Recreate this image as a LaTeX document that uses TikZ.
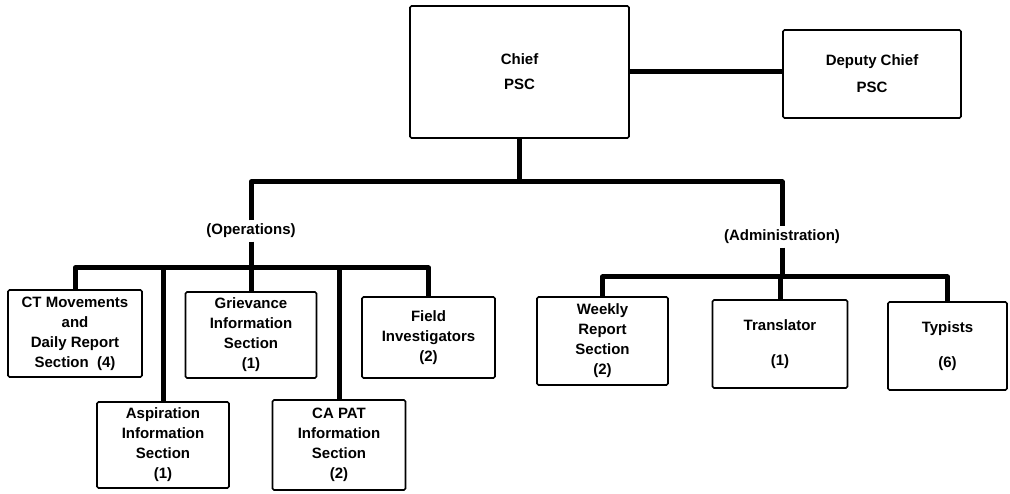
\documentclass[tikz,border=0pt]{standalone}
\usepackage{fontspec}
\setmainfont{Liberation Sans}
\usetikzlibrary{positioning}

\begin{document}
\begin{tikzpicture}[x=1pt, y=-1pt,
  every node/.style={font=\fontsize{15}{20}\selectfont\bfseries, align=center},
  unit/.style={draw, line width=1.6pt, rounded corners=1.5pt, inner sep=2pt},
  conn/.style={line width=5pt, line join=round}]
  \useasboundingbox (0,0) rectangle (1010,494);

  % Head
  \node[unit, minimum width=219pt, minimum height=132pt] (chief) at (519.5,72) {Chief\\[5pt]PSC};
  \node[unit, minimum width=178pt, minimum height=88pt] (deputy) at (872,74) {Deputy Chief\\[7pt]PSC};
  \draw[conn] (chief.east) -- (chief.east -| deputy.west);

  % Operations
  \node (ops) at (251,231) {(Operations)};
  \node[unit, minimum width=134pt, minimum height=87pt] (ct) at (75,333.5) {CT Movements\\and\\Daily Report\\Section\ \ (4)};
  \node[unit, minimum width=131pt, minimum height=86pt] (griev) at (251,335) {Grievance\\Information\\Section\\(1)};
  \node[unit, minimum width=133pt, minimum height=81pt] (field) at (428.5,337.5) {Field\\Investigators\\(2)};
  \node[unit, minimum width=132pt, minimum height=86pt] (asp) at (163,445) {Aspiration\\Information\\Section\\(1)};
  \node[unit, minimum width=133pt, minimum height=90pt] (capat) at (339,445) {CA PAT\\Information\\Section\\(2)};

  % Administration
  \node (adm) at (782,237) {(Administration)};
  \node[unit, minimum width=131pt, minimum height=88pt] (weekly) at (602.5,341) {Weekly\\Report\\Section\\(2)};
  \node[unit, minimum width=135pt, minimum height=88pt] (trans) at (780,344) {Translator\\[15pt](1)};
  \node[unit, minimum width=119pt, minimum height=88pt] (typ) at (947.5,346) {Typists\\[15pt](6)};

  % Lines
  \coordinate (topbar) at (0,182);
  \coordinate (opsbar) at (0,268);
  \coordinate (admbar) at (0,277);
  \draw[conn] (chief.south) -- (chief.south |- topbar);
  \draw[conn] (ops.north) -- (ops.north |- topbar) -- (adm.north |- topbar) -- (adm.north);
  \draw[conn] (ops.south) -- (ops.south |- opsbar);
  \draw[conn] (ct.north) -- (ct.north |- opsbar) -- (field.north |- opsbar) -- (field.north);
  \foreach \n in {asp, griev, capat}
    \draw[conn] (\n.north) -- (\n.north |- opsbar);
  \draw[conn] (adm.south) -- (adm.south |- admbar);
  \draw[conn] (weekly.north) -- (weekly.north |- admbar) -- (typ.north |- admbar) -- (typ.north);
  \draw[conn] (trans.north) -- (trans.north |- admbar);
\end{tikzpicture}
\end{document}
